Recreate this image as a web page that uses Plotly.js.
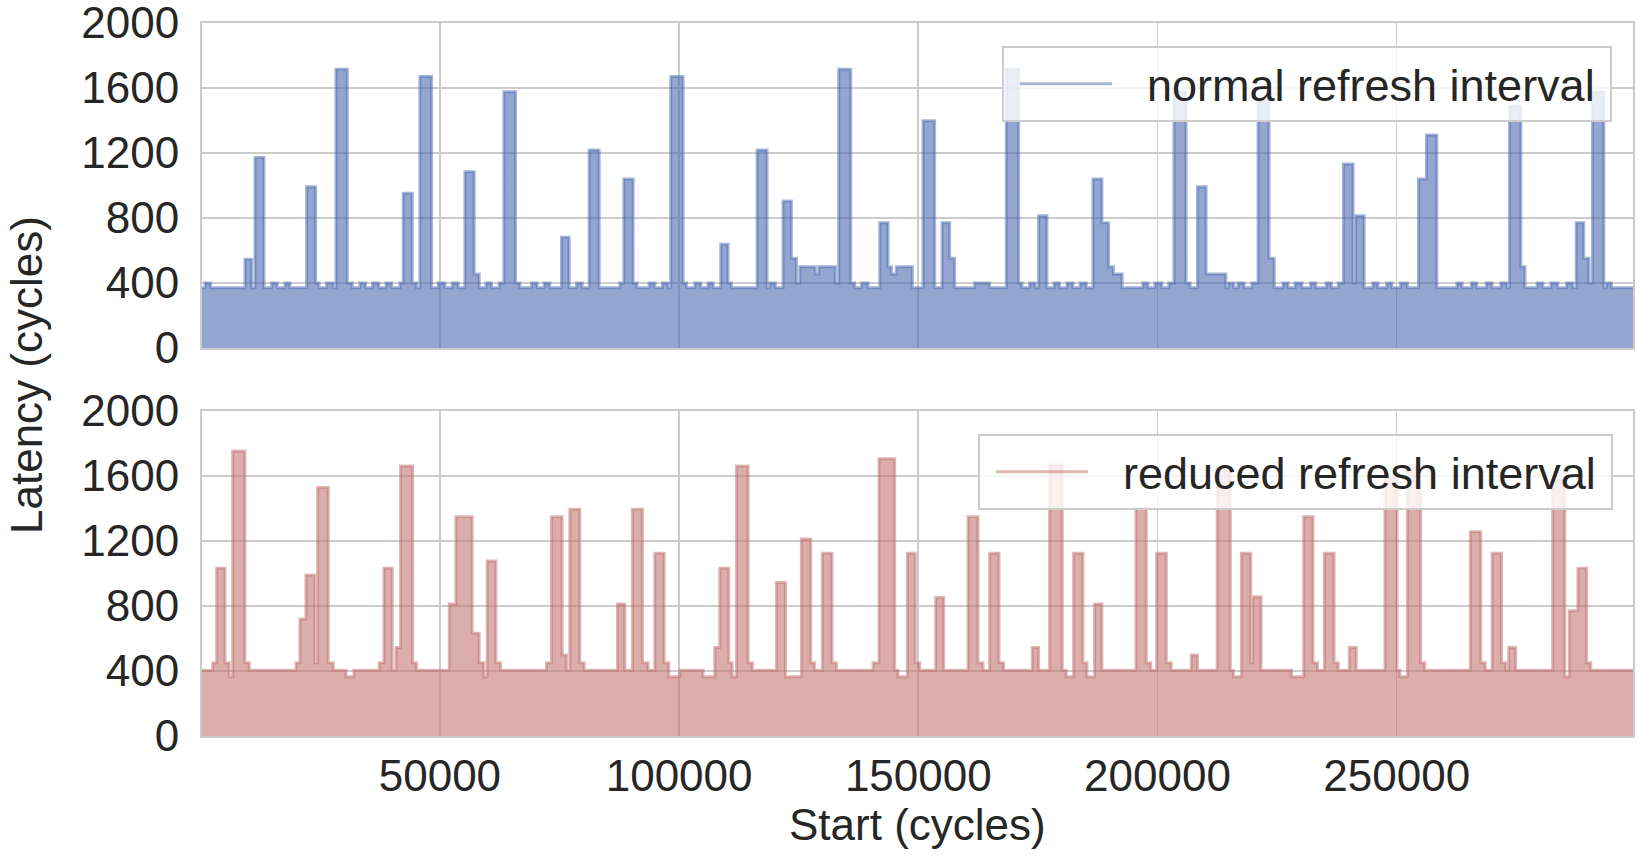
<!DOCTYPE html>
<html>
<head>
<meta charset="utf-8">
<script src="https://cdn.plot.ly/plotly-3.0.1.min.js"></script>
<style>html,body{margin:0;padding:0;background:#fff;}</style>
</head>
<body>
<div id="chart" style="width:1643px;height:856px;"></div>
<script>
// ---- Data ----
const normalStart = [271,898,2082,9256,10649,11345,13226,14828,16012,17613,18658,22140,24021,24718,26320,27713,28270,30638,31683,33284,34468,35931,37254,38717,39901,41642,42338,44219,45124,45821,48258,49651,51044,52576,53830,55223,57173,58218,59611,60795,62397,63372,65809,66715,69152,70336,71799,72983,75420,77022,78554,79738,81201,83290,87608,88444,90394,91230,93737,94921,96523,97708,98265,100842,101539,103280,104534,106066,107110,108712,110245,110941,116304,118393,118950,120134,121736,123477,124522,125219,128492,129189,132671,133368,135875,136711,138104,139497,141934,143675,144372,145416,148760,150988,153426,154958,156560,157604,161783,164918,168400,170977,171673,173275,174459,175155,176896,178359,179543,181075,182329,183861,185114,186507,188388,189781,190792,192599,196937,198022,199468,200913,202359,203444,205974,206842,208360,210167,214288,214794,215951,216819,218120,219711,221012,223326,224410,226217,227302,228748,230194,232001,233086,235255,236339,237785,238870,240894,241400,243207,245015,246099,247907,248991,250798,252244,254558,256221,258390,262583,263667,265619,266704,268728,269957,271765,273066,273572,275958,276825,279356,280585,282248,283694,285501,286803,287526,289116,290200,290923,293309,293815,294900,299400];
const normalLatency = [370,400,370,546,370,1173,370,400,370,400,370,993,400,370,400,370,1715,400,370,400,370,400,370,400,370,400,952,400,370,1670,370,400,370,400,370,1085,455,370,400,370,400,1577,400,370,400,370,400,370,681,370,400,370,1218,370,400,1040,400,370,400,370,400,370,1670,400,370,400,370,400,370,638,400,370,1218,370,400,370,905,552,400,500,455,500,400,1715,400,370,400,370,771,500,455,500,370,1399,370,771,552,370,400,370,1715,400,370,400,370,814,370,400,370,400,370,400,370,1040,771,500,455,370,400,370,400,370,400,1577,400,370,993,455,370,400,370,400,370,400,1536,552,370,400,370,400,370,400,370,400,370,400,1132,400,814,370,400,370,400,370,400,370,1040,1310,370,400,370,400,370,400,370,400,370,1489,500,370,400,370,400,370,400,370,771,552,400,1577,370,400,370,370];

const reducedStart = [271,2500,3336,5077,5982,6679,9256,10161,19912,20748,22001,23882,24439,26668,27712,30359,32030,37323,38299,40040,40806,41781,44288,45124,51949,53342,56755,58218,59193,59890,61700,62675,72287,73332,75560,76470,77162,79251,80157,87121,88653,90255,92345,93529,94922,96872,97847,100146,105021,107459,108503,110384,111080,111986,114423,115329,120343,122224,125567,127517,128353,129955,131974,132880,140541,141795,145068,145765,147715,149387,150291,153634,155306,160390,162479,163524,164918,166868,167843,173833,175156,177452,180099,180935,182467,184417,185253,186855,188388,195491,197660,198600,199829,201853,202865,207059,208360,212481,215228,215879,217542,219494,219928,221663,228025,230555,232507,233447,234893,236917,237785,240098,241544,247545,250075,250654,252244,254992,255859,265402,267571,268511,269957,271909,272849,273427,274873,282609,285140,286080,287887,289694,290562,299400];
const reducedLatency = [405,450,1032,450,365,1754,450,405,450,720,991,450,1530,450,405,365,405,450,1032,405,544,1661,450,405,812,1350,632,450,365,1077,450,405,450,1350,498,405,1395,450,405,812,405,1395,450,405,1124,450,365,405,365,544,1032,450,365,1661,450,405,945,365,1212,450,405,1124,450,405,450,1706,405,365,1124,450,405,853,405,1350,450,405,1124,450,405,544,405,1668,405,365,1124,450,365,812,405,1400,450,405,1124,450,405,498,405,1650,405,365,1124,450,857,405,365,1350,450,405,1124,450,405,544,405,1587,405,365,1657,450,405,1257,450,405,1124,450,405,544,405,1575,365,771,1032,450,405,405];

const xTicks = [50000, 100000, 150000, 200000, 250000];
const yTicks = [0, 400, 800, 1200, 1600, 2000];
const seriesNames = ['normal refresh interval', 'reduced refresh interval'];

// ---- Style ----
const FONT = '"Liberation Sans", Arial, Helvetica, sans-serif';
const TXT = '#262626';
const GRID = '#cccccc';
const FS = 44;

const traces = [
  {x: normalStart, y: normalLatency, xaxis: 'x', yaxis: 'y', type: 'scatter', mode: 'lines',
   line: {shape: 'hv', width: 0, color: 'rgba(0,0,0,0)'}, fill: 'tozeroy', fillcolor: 'rgba(77,107,177,0.6)',
   showlegend: false, hoverinfo: 'skip'},
  {x: normalStart, y: normalLatency, xaxis: 'x', yaxis: 'y', type: 'scatter', mode: 'lines', name: seriesNames[0],
   line: {shape: 'hv', width: 3, color: 'rgba(76,107,177,0.5)'}, legend: 'legend'},
  {x: reducedStart, y: reducedLatency, xaxis: 'x2', yaxis: 'y2', type: 'scatter', mode: 'lines',
   line: {shape: 'hv', width: 0, color: 'rgba(0,0,0,0)'}, fill: 'tozeroy', fillcolor: 'rgba(195,120,117,0.6)',
   showlegend: false, hoverinfo: 'skip'},
  {x: reducedStart, y: reducedLatency, xaxis: 'x2', yaxis: 'y2', type: 'scatter', mode: 'lines', name: seriesNames[1],
   line: {shape: 'hv', width: 3, color: 'rgba(192,112,107,0.5)'}, legend: 'legend2'}
];

const xRange = [normalStart[0], normalStart[normalStart.length - 1]];
function xAxis(extra) {
  return Object.assign({
    range: xRange, tickvals: xTicks, ticktext: xTicks.map(String),
    showgrid: true, gridcolor: GRID, gridwidth: 1.6,
    showline: true, mirror: true, linecolor: GRID, linewidth: 2,
    zeroline: false, ticks: '', ticklabeloverflow: 'allow',
    tickfont: {family: FONT, size: FS, color: TXT}
  }, extra);
}
function yAxis(extra) {
  return Object.assign({
    range: [0, 2000], tickvals: yTicks, ticktext: yTicks.map(String),
    showgrid: true, gridcolor: GRID, gridwidth: 1.6,
    showline: true, mirror: true, linecolor: GRID, linewidth: 2,
    zeroline: false, ticks: '', ticklabelstandoff: 12, ticklabeloverflow: 'allow',
    tickfont: {family: FONT, size: FS, color: TXT}
  }, extra);
}
const legendBase = {
  xanchor: 'right', yanchor: 'top', bgcolor: 'rgba(255,255,255,0.8)',
  bordercolor: GRID, borderwidth: 2, itemwidth: 133,
  font: {family: FONT, size: 45, color: TXT}
};

const layout = {
  width: 1643, height: 856,
  margin: {l: 202, r: 10, t: 23, b: 120},
  paper_bgcolor: '#ffffff', plot_bgcolor: '#ffffff',
  font: {family: FONT, size: FS, color: TXT},
  xaxis: xAxis({anchor: 'y', domain: [0, 1], showticklabels: false}),
  xaxis2: xAxis({anchor: 'y2', domain: [0, 1], matches: 'x', showticklabels: true, ticklabelstandoff: 0}),
  yaxis: yAxis({anchor: 'x', domain: [0.5442, 1]}),
  yaxis2: yAxis({anchor: 'x2', domain: [0, 0.4558]}),
  legend: Object.assign({x: 0.9853, y: 0.9677}, legendBase),
  legend2: Object.assign({x: 0.986, y: 0.4236}, legendBase),
  showlegend: true,
  annotations: [
    {text: 'Latency (cycles)', xref: 'paper', yref: 'paper', x: -0.123, y: 0.5063,
     xanchor: 'center', yanchor: 'middle', textangle: -90, showarrow: false,
     font: {family: FONT, size: FS, color: TXT}},
    {text: 'Start (cycles)', xref: 'paper', yref: 'paper', x: 0.5, y: -0.1248,
     xanchor: 'center', yanchor: 'middle', showarrow: false,
     font: {family: FONT, size: FS, color: TXT}}
  ]
};

Plotly.newPlot('chart', traces, layout, {staticPlot: true, displayModeBar: false}).then(function () {
  document.querySelectorAll('.legendlines path').forEach(function (p) {
    p.setAttribute('d', 'M16,0h92');
  });
  // widen legend boxes on the left side (right edge stays fixed, content moves with the box)
  var D = 10;
  ['g.legend', 'g.legend2'].forEach(function (sel) {
    var g = document.querySelector(sel);
    if (!g) return;
    var bg = g.querySelector('rect.bg');
    if (bg) bg.setAttribute('width', parseFloat(bg.getAttribute('width')) + D);
    var tr = g.getAttribute('transform') || '';
    var m2 = /translate\(([-\d.]+)[ ,]+([-\d.]+)\)/.exec(tr);
    if (m2) g.setAttribute('transform', 'translate(' + (parseFloat(m2[1]) - D) + ',' + m2[2] + ')');
  });
});
</script>
</body>
</html>
